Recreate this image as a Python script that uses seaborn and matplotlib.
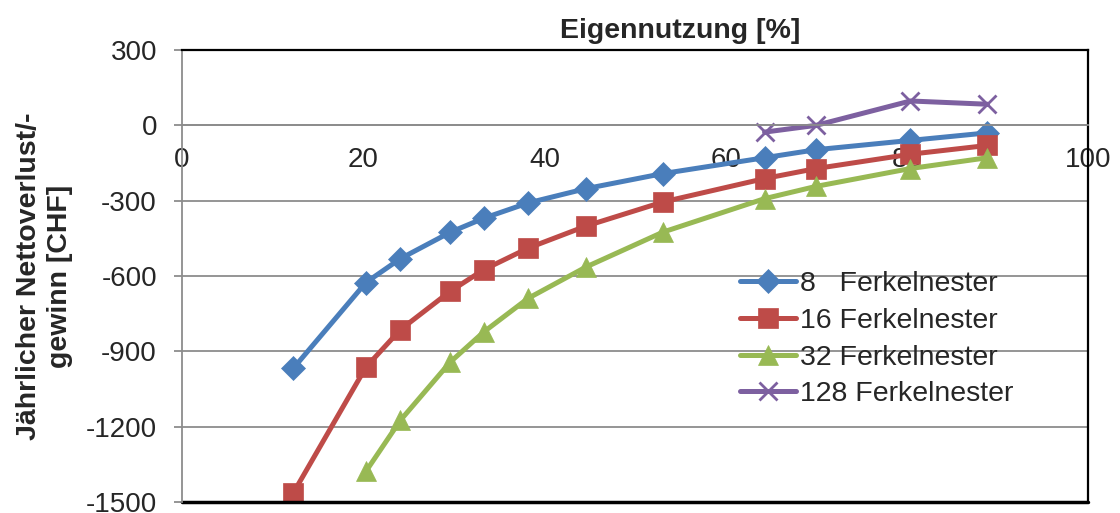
import pandas as pd
import seaborn as sns
import matplotlib.pyplot as plt

# Werte
x_all = [12.3, 20.3, 24.1, 29.6, 33.3, 38.2, 44.6, 53.1, 64.3, 70.0, 80.4, 88.9]
y_8 = [-967, -626, -531, -426, -370, -309, -252, -192, -129, -97, -60, -30]
y_16 = [-1463, -963, -814, -661, -575, -489, -401, -305, -212, -172, -115, -80]
x_32 = x_all[1:]
y_32 = [-1378, -1175, -943, -823, -689, -564, -425, -292, -243, -172, -129]
x_128 = [64.3, 70.0, 80.4, 88.9]
y_128 = [-27, 0, 97, 84]

labels = ['8   Ferkelnester', '16 Ferkelnester', '32 Ferkelnester', '128 Ferkelnester']
colors = ['#4A7EBB', '#BE4B48', '#98B954', '#7D60A0']

sns.set_style('white')
plt.rcParams['font.family'] = ['Liberation Sans', 'DejaVu Sans']
plt.rcParams['axes.unicode_minus'] = False

fig = plt.figure(figsize=(11.2, 5.13), dpi=100)
ax = fig.add_axes([182/1120, 11/513, 906/1120, 452/513])

series = [(x_all, y_8, 'D', 12), (x_all, y_16, 's', 14),
          (x_32, y_32, '^', 14), (x_128, y_128, 'x', 13)]
for (xs, ys, m, ms), lab, c in zip(series, labels, colors):
    df = pd.DataFrame({'x': xs, 'y': ys})
    sns.lineplot(data=df, x='x', y='y', ax=ax, color=c, label=lab,
                 marker=m, markersize=ms, markeredgecolor=c,
                 markeredgewidth=2 if m == 'x' else 0.5, linewidth=3.6)

ax.set_xlim(0, 100)
ax.set_ylim(-1500, 300)
ax.set_xticks(range(0, 101, 20))
ax.set_yticks(range(-1500, 301, 300))
ax.yaxis.grid(True, color='#8c8c8c', linewidth=1.3)
ax.set_axisbelow(True)

# x-Achse liegt bei 0
ax.spines['bottom'].set_position(('data', 0))
ax.spines['bottom'].set_color('#8c8c8c')
ax.spines['bottom'].set_linewidth(1.3)
ax.spines['left'].set_color('#8c8c8c')
ax.spines['left'].set_linewidth(1.3)
for s in ['top', 'right']:
    ax.spines[s].set_color('black')
    ax.spines[s].set_linewidth(1.6)
ax.axhline(-1500, color='black', linewidth=2.5, clip_on=False)

ax.tick_params(axis='x', direction='inout', length=7, width=1.3,
               color='#8c8c8c', labelsize=20, pad=12)
ax.tick_params(axis='y', direction='out', length=6, width=1.3,
               color='#8c8c8c', labelsize=20, pad=12, left=True)

ax.set_xlabel('')
ax.set_ylabel('Jährlicher Nettoverlust/-\ngewinn [CHF]', fontsize=20.5,
              fontweight='bold', linespacing=1.25)
ax.yaxis.set_label_coords(-0.12, 0.5)
ax.set_title('Eigennutzung [%]', fontsize=20.5, fontweight='bold', x=0.55, pad=9)

ax.legend(loc='upper left', bbox_to_anchor=(740/1120, 1 - 271/513),
          bbox_transform=fig.transFigure, frameon=False, fontsize=20.5,
          handlelength=1.95, handletextpad=0.15, labelspacing=0.38,
          borderpad=0, borderaxespad=0)

plt.savefig('out.png', dpi=100)
